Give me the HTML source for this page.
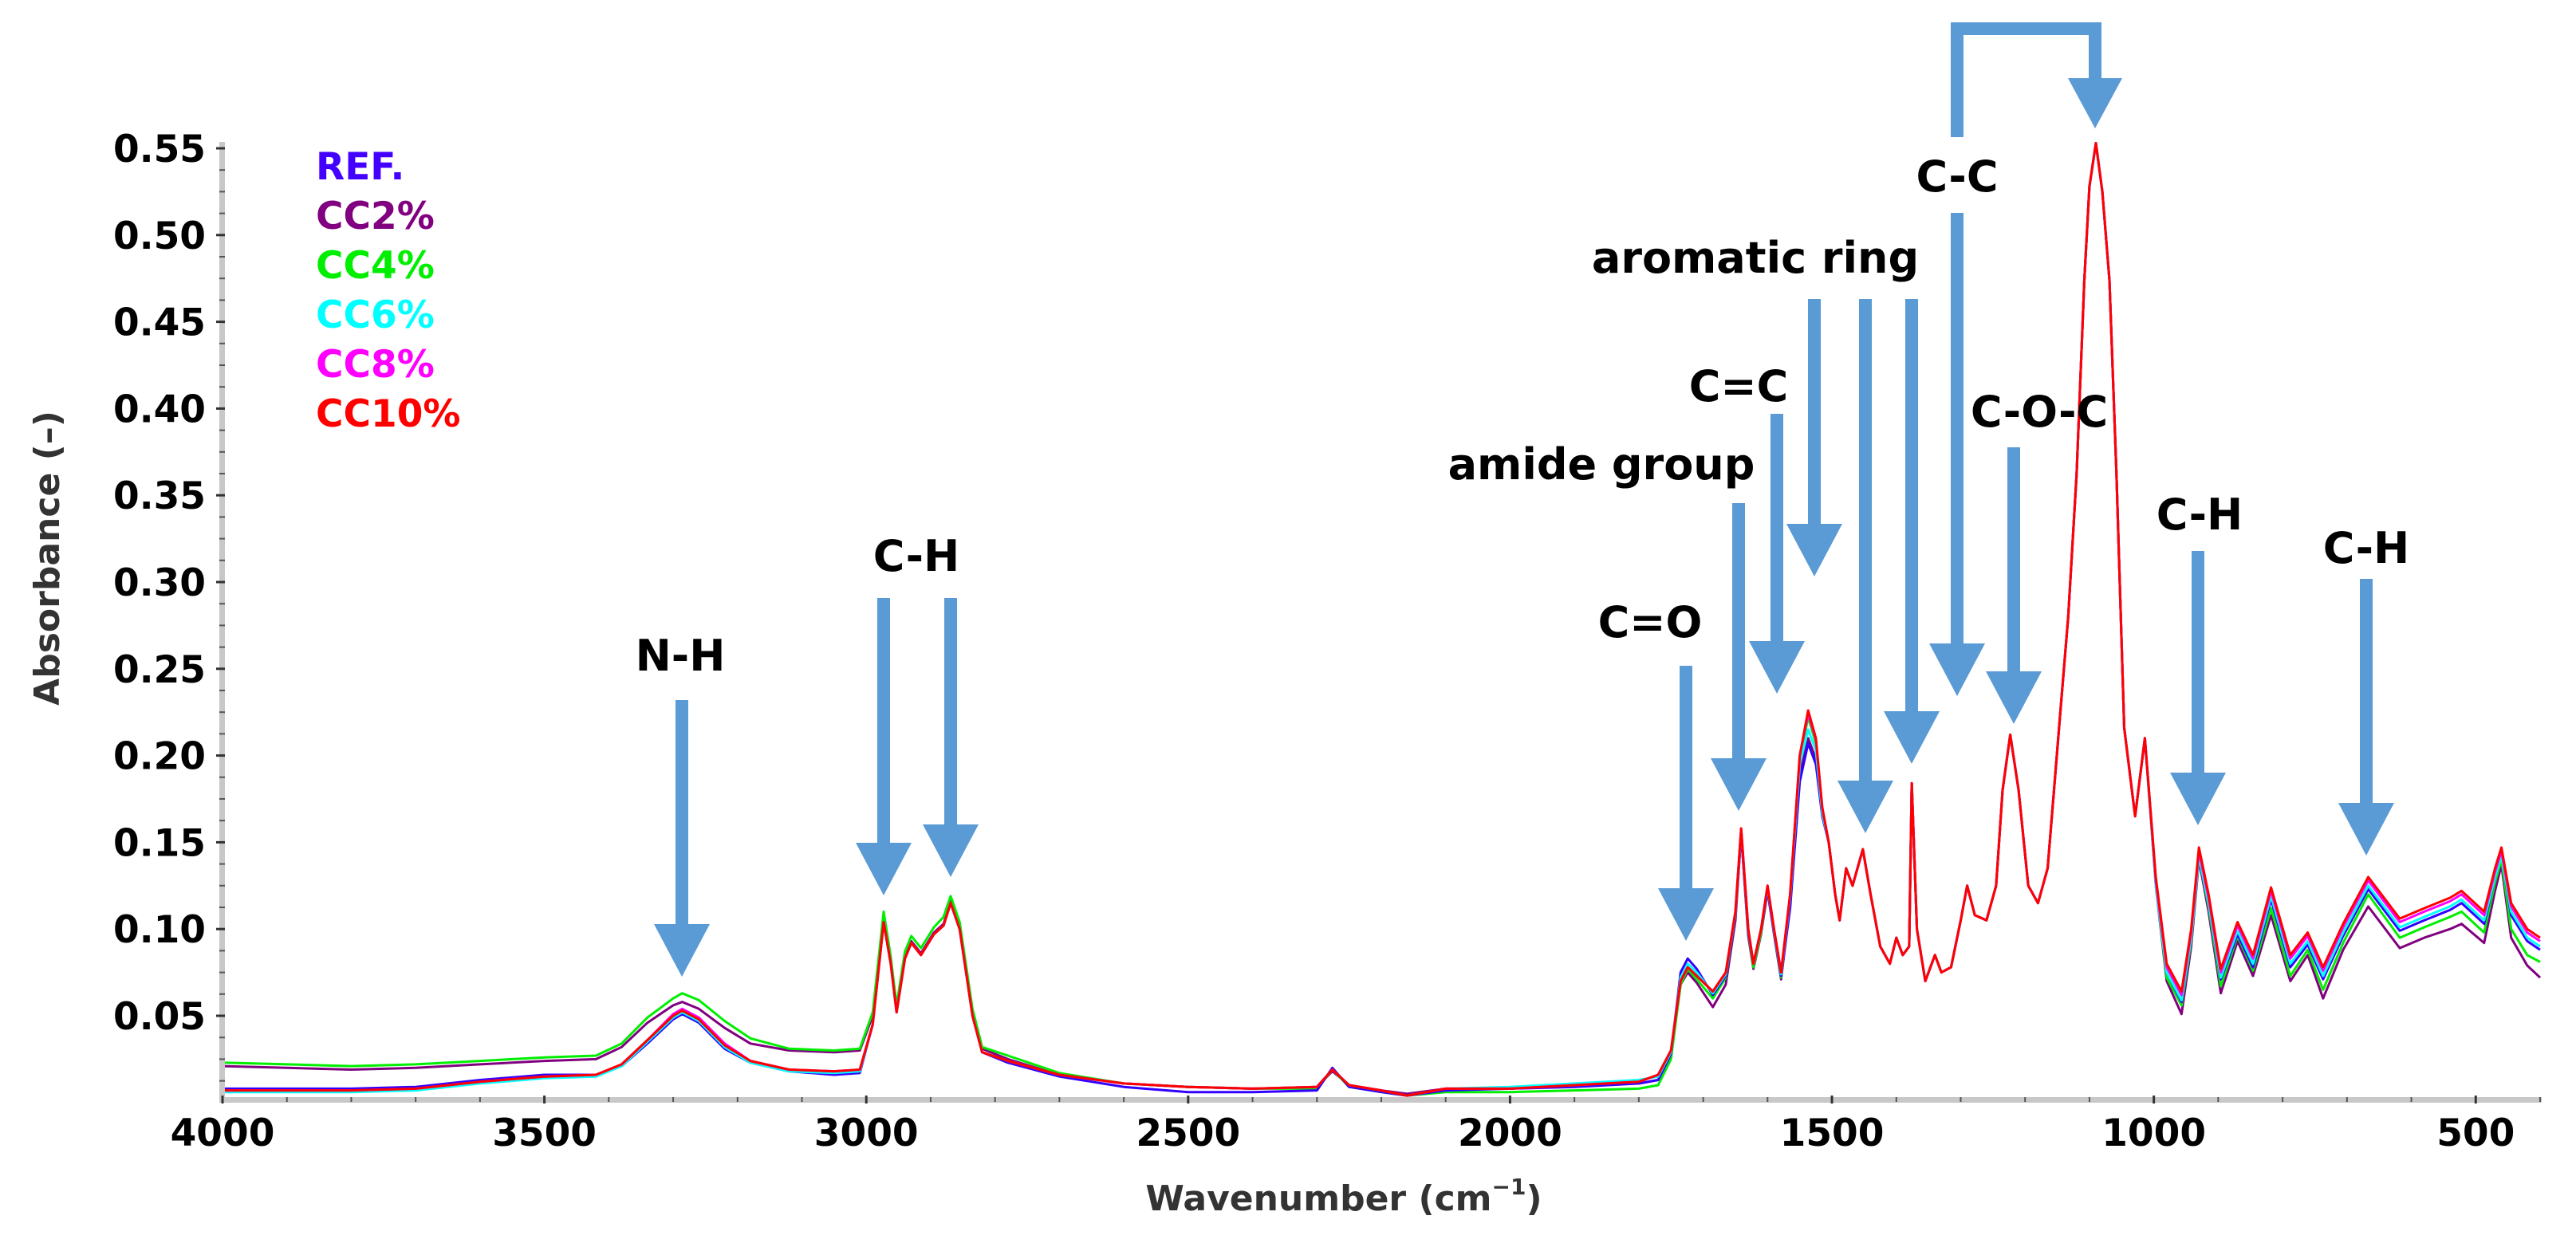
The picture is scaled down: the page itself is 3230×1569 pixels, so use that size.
<!DOCTYPE html>
<html><head><meta charset="utf-8">
<style>
html,body{margin:0;padding:0;background:#fff;}
svg{display:block;}
text{font-family:"DejaVu Sans","Liberation Sans",sans-serif;font-weight:bold;}
</style></head>
<body>
<svg id="chart" width="3230" height="1569" viewBox="0 0 3230 1569" xmlns="http://www.w3.org/2000/svg">
  <g id="series"></g>
  <g id="axes"></g>
  <g id="annot"></g>
  <g id="legend"></g>
  <text x="0" y="0" transform="translate(62,700) rotate(-90)" text-anchor="middle" dominant-baseline="middle" font-size="44" fill="#333">Absorbance (–)</text>
  <text x="1685" y="1506" text-anchor="middle" dominant-baseline="middle" font-size="44" fill="#333">Wavenumber (cm<tspan font-size="28" dy="-16">−1</tspan><tspan dy="16">)</tspan></text>
</svg>
<script>
const wavenumbers=[4000,3900,3800,3700,3600,3500,3420,3380,3340,3300,3286,3260,3220,3180,3120,3050,3010,
2990,2973,2962,2953,2940,2930,2915,2895,2880,2869,2855,2835,2820,2780,
2700,2600,2500,2400,2300,2276,2250,2200,2160,2100,2000,1900,1800,
1770,1750,1735,1724,1710,1685,1665,1650,1641,1630,1622,1610,1600,1590,1579,1565,1550,
1537,1525,1515,
1505,1495,1488,1478,1468,1452,1440,1425,1410,1400,1390,1380,1376,1368,1355,1340,1330,1315,1300,1290,1278,1260,1245,1235,1223,1210,1195,1180,1165,1145,1133,1120,1108,1100,1090,1080,1069,1058,1046,1029,1014,
997,980,957,942,930,915,896,870,846,818,788,761,737,706,667,618,580,540,522,487,470,460,445,420,400];
const fingerprintShared=[.150,.120,.105,.135,.125,.146,.120,.090,.080,.095,.085,.090,.184,.100,.070,.085,.075,.078,.105,.125,.108,.105,.125,.180,.212,.180,.125,.115,.135,.226,.280,.362,.474,.528,.553,.525,.474,.362,.216,.165,.210];
const refValues=[.008,.008,.008,.009,.013,.016,.016,.021,.034,.048,.051,.046,.031,.023,.018,.016,.017,
.045,.104,.080,.052,.083,.092,.085,.097,.102,.115,.100,.050,.029,.023,
.015,.009,.006,.006,.007,.020,.009,.006,.004,.007,.008,.009,.011,
.013,.028,.075,.083,.077,.062,.073,.108,.155,.098,.080,.100,.122,.098,.073,.112,.185,
.207,.195,.165].concat(fingerprintShared,[.128,.075,.058,.095,.144,.115,.071,.097,.078,.117,.078,.091,.071,.096,.123,.099,.105,.111,.115,.103,.130,.143,.108,.093,.088]);
const cc2Values=[.021,.020,.019,.020,.022,.024,.025,.032,.046,.056,.058,.054,.043,.034,.030,.029,.030,
.050,.106,.082,.055,.084,.093,.086,.098,.103,.116,.101,.052,.031,.025,
.016,.011,.009,.008,.009,.018,.010,.007,.005,.008,.008,.010,.011,
.013,.027,.068,.075,.069,.055,.068,.105,.155,.096,.077,.097,.122,.097,.071,.115,.190,
.210,.198,.166].concat(fingerprintShared,[.125,.070,.051,.090,.140,.110,.063,.093,.073,.108,.070,.085,.060,.088,.113,.089,.095,.100,.103,.092,.122,.137,.095,.079,.072]);
const cc4Values=[.023,.022,.021,.022,.024,.026,.027,.034,.049,.060,.063,.059,.047,.037,.031,.030,.031,
.052,.110,.084,.056,.087,.096,.089,.101,.107,.119,.104,.054,.032,.027,
.017,.011,.009,.008,.008,.019,.009,.006,.004,.006,.006,.007,.008,
.010,.025,.068,.077,.071,.060,.072,.108,.156,.098,.078,.098,.124,.098,.072,.118,.198,
.222,.207,.168].concat(fingerprintShared,[.126,.072,.056,.093,.142,.113,.067,.096,.076,.112,.073,.088,.065,.092,.120,.095,.101,.107,.110,.098,.127,.140,.100,.085,.081]);
const cc6Values=[.006,.006,.006,.007,.011,.014,.015,.021,.035,.049,.052,.047,.032,.023,.018,.017,.018,
.045,.104,.080,.052,.083,.092,.085,.097,.102,.115,.100,.050,.029,.024,
.016,.011,.009,.008,.009,.019,.010,.007,.004,.008,.009,.011,.013,
.015,.029,.072,.080,.075,.063,.074,.109,.157,.099,.080,.100,.124,.099,.074,.118,.195,
.215,.203,.167].concat(fingerprintShared,[.125,.075,.059,.095,.142,.115,.072,.099,.080,.119,.080,.093,.073,.098,.125,.101,.107,.113,.117,.105,.130,.142,.110,.095,.090]);
const cc8Values=[.007,.007,.007,.008,.012,.015,.016,.022,.036,.051,.054,.049,.034,.024,.019,.018,.019,
.045,.104,.080,.052,.083,.092,.085,.097,.102,.115,.100,.050,.029,.024,
.016,.011,.009,.008,.009,.019,.010,.007,.004,.008,.008,.010,.012,
.016,.030,.070,.078,.073,.064,.075,.110,.158,.100,.080,.100,.125,.100,.075,.120,.200,
.224,.209,.170].concat(fingerprintShared,[.128,.078,.062,.098,.145,.118,.075,.102,.083,.122,.083,.096,.076,.101,.128,.104,.110,.116,.120,.108,.133,.145,.113,.098,.093]);
const cc10Values=[.007,.007,.007,.008,.012,.015,.016,.022,.036,.050,.053,.048,.033,.024,.019,.018,.019,
.045,.104,.080,.052,.083,.092,.085,.097,.102,.115,.100,.050,.029,.024,
.016,.011,.009,.008,.009,.019,.010,.007,.004,.008,.008,.010,.012,
.016,.030,.070,.078,.073,.064,.075,.110,.158,.100,.080,.100,.125,.100,.075,.120,.200,
.226,.210,.170].concat(fingerprintShared,[.130,.080,.064,.100,.147,.120,.077,.104,.085,.124,.085,.098,.078,.103,.130,.106,.112,.118,.122,.110,.135,.147,.115,.100,.095]);
const seriesNames=["CC2%","CC4%","REF.","CC6%","CC8%","CC10%"];
const seriesColors=["#800080","#00ee00","#3300ff","#00ffff","#ff00ff","#ff0000"];
const seriesData=[cc2Values,cc4Values,refValues,cc6Values,cc8Values,cc10Values];
const legendNames=["REF.","CC2%","CC4%","CC6%","CC8%","CC10%"];
const legendColors=["#4400ff","#800080","#00ee00","#00ffff","#ff00ff","#ff0000"];
const yTicks=[0.05,0.10,0.15,0.20,0.25,0.30,0.35,0.40,0.45,0.50,0.55];
const yTickLabels=["0.05","0.10","0.15","0.20","0.25","0.30","0.35","0.40","0.45","0.50","0.55"];
const xTicks=[4000,3500,3000,2500,2000,1500,1000,500];
const xTickLabels=["4000","3500","3000","2500","2000","1500","1000","500"];
const annotLabels=["N-H","C-H","C=O","amide group","C=C","aromatic ring","C-C","C-O-C","C-H","C-H"];

const NS="http://www.w3.org/2000/svg";
const X0=279, XW=2908, WMAX=4000, WMIN=397.5;
const Y55=186, YPER=2176;
function xs(w){return X0+(WMAX-w)/(WMAX-WMIN)*XW;}
function ys(v){return Y55+(0.55-v)*YPER;}
function mk(tag,attrs,parent){const e=document.createElementNS(NS,tag);for(const k in attrs)e.setAttribute(k,attrs[k]);parent.appendChild(e);return e;}

const gS=document.getElementById('series');
seriesData.forEach((vals,i)=>{
  let d="";
  for(let j=0;j<wavenumbers.length;j++){d+=(j?"L":"M")+xs(wavenumbers[j]).toFixed(1)+","+ys(vals[j]).toFixed(1);}
  const p=mk('path',{d:d,fill:"none",stroke:seriesColors[i],"stroke-width":3,"stroke-linejoin":"round"},gS);
  
  
});

const gA=document.getElementById('axes');
const yl=mk('rect',{x:X0-4,y:178,width:7,height:1205,fill:"#c8c8c8"},gA);


const xl=mk('rect',{x:X0-4,y:1376,width:XW+4,height:7,fill:"#c8c8c8"},gA);


for(let v=0.0125;v<=0.5501;v+=0.0125){
  const t=mk('line',{x1:X0-4,x2:X0+3,y1:ys(v),y2:ys(v),stroke:"#555","stroke-width":2},gA);
  
  
}
yTicks.forEach((v,i)=>{
  const t=mk('line',{x1:X0-8,x2:X0+3,y1:ys(v),y2:ys(v),stroke:"#333","stroke-width":3},gA);
  
  
  const l=mk('text',{x:258,y:ys(v)+17,"text-anchor":"end","font-size":47,fill:"#000"},gA);
  l.textContent=yTickLabels[i];
  
  
});
for(let w=4000;w>=400;w-=100){
  const t=mk('line',{x1:xs(w),x2:xs(w),y1:1376,y2:1382,stroke:"#555","stroke-width":2},gA);
  
  
}
xTicks.forEach((w,i)=>{
  const t=mk('line',{x1:xs(w),x2:xs(w),y1:1374,y2:1384,stroke:"#333","stroke-width":3},gA);
  
  
  const l=mk('text',{x:xs(w),y:1437,"text-anchor":"middle","font-size":47,fill:"#000"},gA);
  l.textContent=xTickLabels[i];
  
  
});

const gL=document.getElementById('legend');
legendNames.forEach((n,i)=>{
  const t=mk('text',{x:396,y:225+i*62,"font-size":47,fill:legendColors[i]},gL);
  t.textContent=n;
  
  
});

const gN=document.getElementById('annot');
const BLUE="#5b9bd5";
const arrows=[[855,878,1225],[1108,750,1123],[1192,750,1100],[2114,835,1180],[2180,631,1017],[2228,519,870],[2275,375,723],[2339,375,1045],[2397,375,958],[2454,267,873],[2525,561,908],[2756,691,1035],[2967,726,1073]];
arrows.forEach(a=>{
  const [x,y0,yt]=a, hl=66, hw=35, sw=8;
  const p=mk('path',{d:`M${x-sw},${y0}L${x+sw},${y0}L${x+sw},${yt-hl}L${x+hw},${yt-hl}L${x},${yt}L${x-hw},${yt-hl}L${x-sw},${yt-hl}Z`,fill:BLUE},gN);
  
  
});
const br=mk('path',{d:`M2446,172L2446,28L2635,28L2635,98L2661,98L2627,161L2593,98L2619,98L2619,44L2462,44L2462,172Z`,fill:BLUE},gN);


const labelPos=[[853,822],[1149,697],[2069,780],[2008,582],[2180,484],[2201,323],[2454,221],[2557,516],[2758,645],[2967,687]];
labelPos.forEach((p,i)=>{
  const t=mk('text',{x:p[0],y:p[1]+19,"text-anchor":"middle","font-size":54,fill:"#000"},gN);
  t.textContent=annotLabels[i];
  
  
});
</script>
</body></html>
